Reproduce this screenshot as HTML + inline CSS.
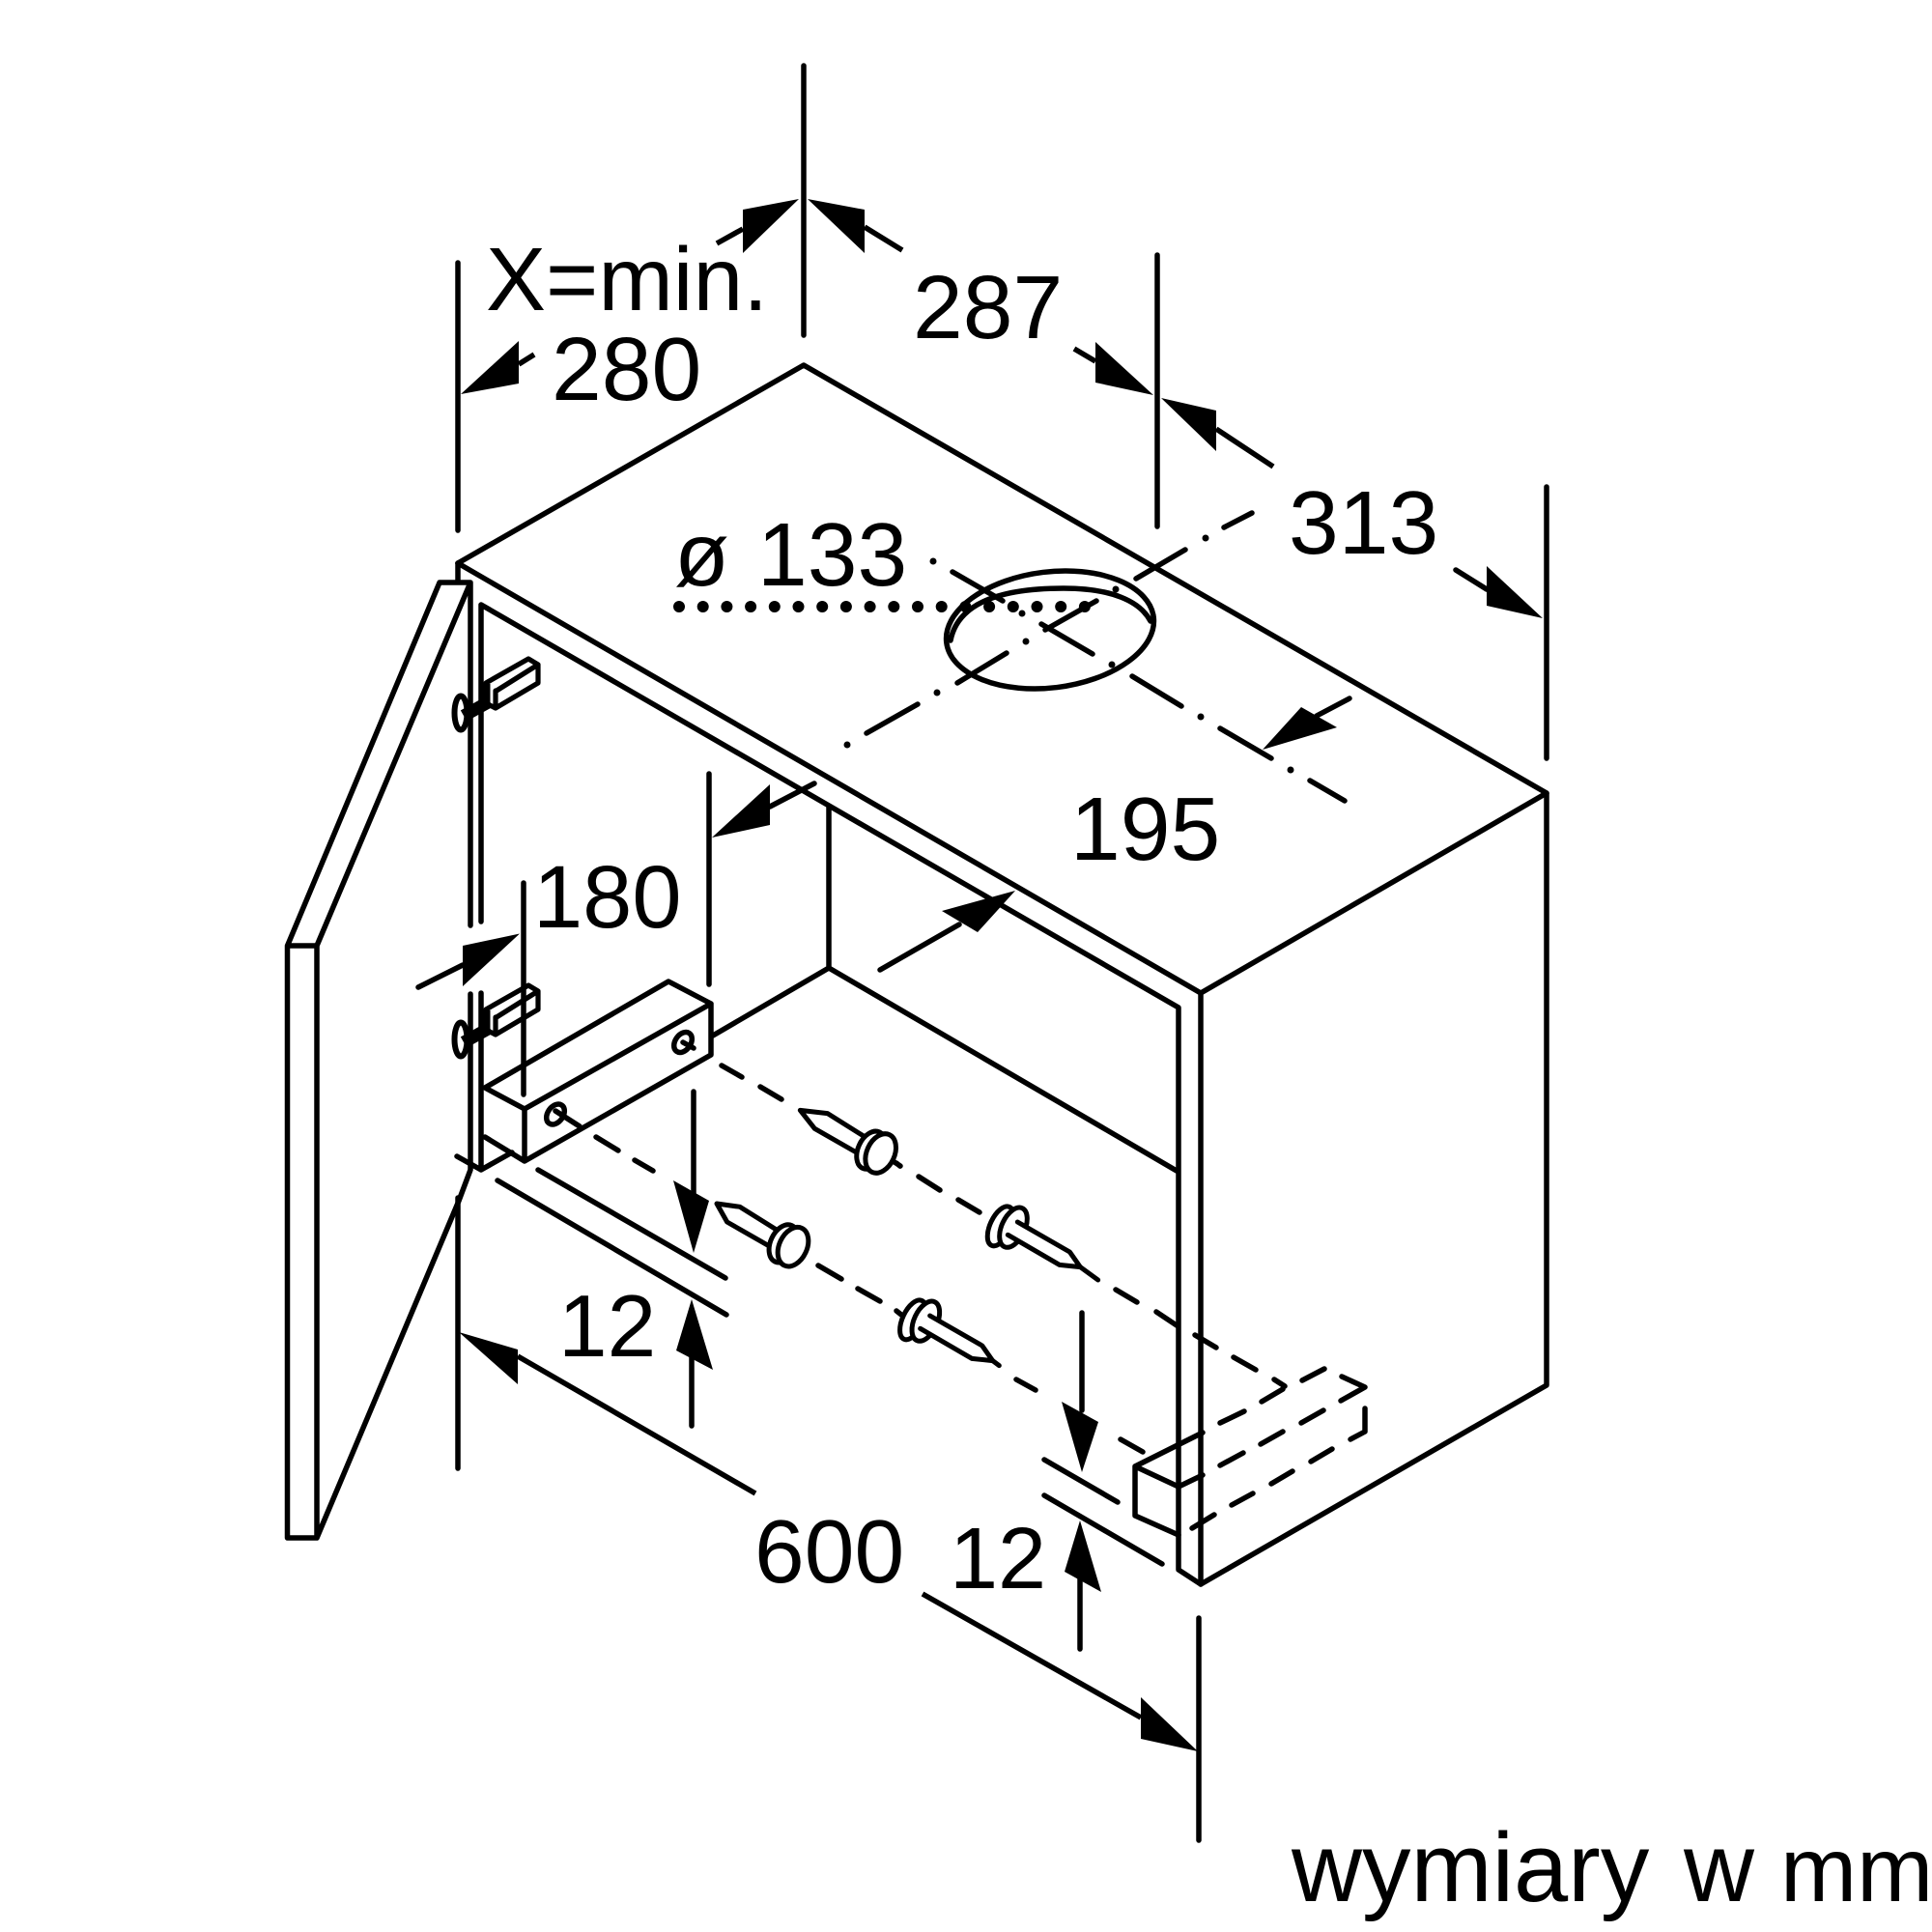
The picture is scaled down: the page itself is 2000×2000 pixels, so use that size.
<!DOCTYPE html>
<html lang="pl">
<head>
<meta charset="utf-8">
<title>wymiary</title>
<style>
html,body{margin:0;padding:0;background:#fff}
svg{display:block}
text{font-family:"Liberation Sans",sans-serif;font-size:93px;fill:#000}
</style>
</head>
<body>
<svg xmlns="http://www.w3.org/2000/svg" width="2000" height="2000" viewBox="0 0 2000 2000">
<rect width="2000" height="2000" fill="#fff"/>
<g fill="none" stroke="#000" stroke-width="5.500" stroke-linecap="round" stroke-linejoin="round">
<!-- cabinet -->
<path d="M474 583L832 378L1601 821V1434L1243 1640L1220 1625V1043L498 626V954"/>
<path d="M474 583L1243 1028V1640M1243 1028L1601 821"/>
<path d="M474 549V272M832 68V347M1198 264V545M1601 504V785M734 801V1019M542 914V1133M474 1240V1520M1241 1675V1905"/>
<!-- door -->
<path d="M474 583V603M487 603V958M487 1029V1211L475 1243L328 1592H297.500V979L455 603H487L328 979V1592M297.500 979H328"/>
<path d="M498 1028V1211L530 1193M473 1197L498 1211"/>
<!-- interior -->
<path d="M858 836V1002L1218 1212M858 1002L738 1072"/>
<!-- box -->
<path d="M502 1126L692 1016L736 1039L543 1148ZM543 1148V1202L736 1092V1039M502 1177L543 1202"/>
<ellipse cx="575" cy="1153.500" rx="8" ry="11.500" transform="rotate(35 575 1153.500)"/>
<ellipse cx="707" cy="1079" rx="8" ry="11.500" transform="rotate(35 707 1079)"/>
<!-- hole -->
<ellipse cx="1087" cy="652" rx="108" ry="60" transform="rotate(-7 1087 652)"/>
<path d="M984 663C992 622 1040 609 1101 609C1150 609 1180 622 1191 643"/>
<!-- dimension bars -->
<path d="M557 1211L751 1323M515 1222L752 1361M1081 1511L1157 1555M1081 1548L1203 1619"/>
<path d="M1263 754L1316 785"/>
<!-- small solid box -->
<path d="M1175 1518L1245 1483M1175 1518L1220 1539L1245 1527M1175 1518V1569L1220 1589"/>
<!-- dashed axes -->
<path d="M575 1150L600 1166M617 1177L640 1191M657 1201L676 1212M847 1310L871 1324M888 1334L911 1347M928 1357L933 1361M1052 1428L1072 1439M1160 1490L1183 1503"/>
<path d="M707 1079L718 1085M747 1103L768 1115M787 1125L809 1138M932 1207L926 1203M951 1218L973 1232M992 1242L1014 1255M1155 1335L1177 1348M1197 1358L1218 1372M1237 1382L1259 1395M1277 1405L1300 1418M1319 1428L1330 1435"/>
<path d="M1263 1473L1288 1461M1306 1451L1328 1438M1348 1429L1371 1417M1389 1425L1413 1436L1388 1450M1370 1460L1347 1473M1328 1482L1305 1495M1287 1504L1263 1517M1413 1458V1482L1398 1490M1379 1500L1357 1513M1338 1523L1316 1536M1297 1546L1275 1558M1257 1568L1234 1582"/>
<!-- centre lines -->
<path d="M897 759L950 729M991 707L1042 676M1082 652L1135 622M1176 599L1227 569M1267 546L1296 531"/>
<path d="M986 592L1038 622M1078 646L1131 677M1172 700L1223 731M1356 808L1392 829"/>
<!-- arrow tails -->
<path stroke-linecap="butt" d="M769 237L742 252M895 235L934 259M537 377L553 367M1134 374L1112 361M1259 444L1318 483"/>
<path d="M1507 590L1539 610M1363 741L1397 723M797 835L843 811M993 957L911 1004M479 999L433 1022M718 1130V1240M716 1400V1476M1120 1359V1460M1118 1630V1707"/>
<path stroke-linecap="butt" d="M536 1404L782 1546M955 1650L1181 1778"/>
</g>
<!-- centre line dots -->
<g fill="#000">
<circle cx="877" cy="771" r="3.500"/><circle cx="970" cy="717" r="3.500"/><circle cx="1062" cy="664" r="3.500"/><circle cx="1155" cy="610" r="3.500"/><circle cx="1248" cy="557" r="3.500"/>
<circle cx="966" cy="581" r="3.500"/><circle cx="1058" cy="635" r="3.500"/><circle cx="1151" cy="688" r="3.500"/><circle cx="1243" cy="742" r="3.500"/><circle cx="1336" cy="797" r="3.500"/>
</g>
<path d="M703 628H1123" fill="none" stroke="#000" stroke-width="12" stroke-linecap="round" stroke-dasharray="0 24.700"/>
<!-- arrow heads -->
<g fill="#000">
<path d="M827 206L769 217V262Z"/>
<path d="M836 206L895 217V262Z"/>
<path d="M477 408L537 353V397Z"/>
<path d="M1194 409L1134 354V396Z"/>
<path d="M1202 412L1259 425V467Z"/>
<path d="M1597 640L1539 586V627Z"/>
<path d="M737 867L797 812V854Z"/>
<path d="M1307 776L1347 732L1384 753Z"/>
<path d="M1051 922L975 943L1012 965Z"/>
<path d="M538 966.500L479 979V1021Z"/>
<path d="M718 1297L697 1222L734 1243Z"/>
<path d="M716 1345L700 1398L738 1418Z"/>
<path d="M1120 1524L1099 1451L1137 1472Z"/>
<path d="M1118 1574L1102 1627L1140 1648Z"/>
<path d="M475 1379L536 1397V1433Z"/>
<path d="M1240 1813L1181 1757V1800Z"/>
</g>
<!-- hinges -->
<g fill="none" stroke="#000" stroke-linejoin="round" stroke-linecap="round">
<path stroke-width="5.200" d="M503 707L547 682L557 688V707L513 733L503 728ZM514 715L557 688M513 715V733"/>
<path stroke-width="13" stroke-linecap="butt" d="M480 741L507 726"/>
<path stroke-width="9" stroke-linecap="butt" d="M503 708V728"/>
<ellipse stroke-width="6" cx="477" cy="738" rx="6.500" ry="17.500"/>
</g>
<g fill="none" stroke="#000" stroke-linejoin="round" stroke-linecap="round" transform="translate(0 338)">
<path stroke-width="5.200" d="M503 707L547 682L557 688V707L513 733L503 728ZM514 715L557 688M513 715V733"/>
<path stroke-width="13" stroke-linecap="butt" d="M480 741L507 726"/>
<path stroke-width="9" stroke-linecap="butt" d="M503 708V728"/>
<ellipse stroke-width="6" cx="477" cy="738" rx="6.500" ry="17.500"/>
</g>
<!-- pegs -->
<g fill="none" stroke="#000" stroke-width="15" stroke-linecap="round" stroke-linejoin="round" transform="translate(650 1100) scale(.33333)">
<g>
<path d="M535 148L620 158L735 230M535 148L580 205L720 285"/>
<ellipse cx="755" cy="272" rx="40" ry="62" transform="rotate(25 755 272)" fill="#fff"/>
<ellipse cx="785" cy="282" rx="43" ry="64" transform="rotate(25 785 282)" fill="#fff"/>
<path d="M835 312L845 322"/>
</g>
<g transform="translate(-272 290)">
<path d="M548 148L620 158L735 230M548 148L580 205L720 285"/>
<ellipse cx="755" cy="272" rx="40" ry="62" transform="rotate(25 755 272)" fill="#fff"/>
<ellipse cx="785" cy="282" rx="43" ry="64" transform="rotate(25 785 282)" fill="#fff"/>
</g>
<g>
<ellipse cx="1157" cy="508" rx="32" ry="66" transform="rotate(25 1157 508)" fill="#fff"/>
<ellipse cx="1197" cy="512" rx="36" ry="66" transform="rotate(25 1197 512)" fill="#fff"/>
<path fill="#fff" d="M1210 495L1372 588L1405 635L1340 628L1180 535"/>
<path d="M1405 635L1460 675"/>
</g>
<g transform="translate(-272 291)">
<ellipse cx="1157" cy="508" rx="32" ry="66" transform="rotate(25 1157 508)" fill="#fff"/>
<ellipse cx="1197" cy="512" rx="36" ry="66" transform="rotate(25 1197 512)" fill="#fff"/>
<path fill="#fff" d="M1210 495L1372 588L1405 635L1340 628L1180 535"/>
<path d="M1405 635L1425 650"/>
</g>
</g>
<!-- text -->
<text x="503" y="321">X=min.</text>
<text x="571" y="414">280</text>
<text x="945" y="350">287</text>
<text x="1334" y="573">313</text>
<text y="606"><tspan x="698">ø</tspan> <tspan x="784">133</tspan></text>
<text x="1108" y="890">195</text>
<text x="552" y="960" style="font-size:92px">180</text>
<text x="578" y="1404" style="font-size:91px">12</text>
<text x="781" y="1638">600</text>
<text x="983" y="1644" style="font-size:90px">12</text>
<text y="1968" style="font-size:101px"><tspan x="1337">wymiary</tspan> <tspan x="1743">w</tspan> <tspan x="1843" style="font-size:95px">mm</tspan></text>
</svg>
</body>
</html>
